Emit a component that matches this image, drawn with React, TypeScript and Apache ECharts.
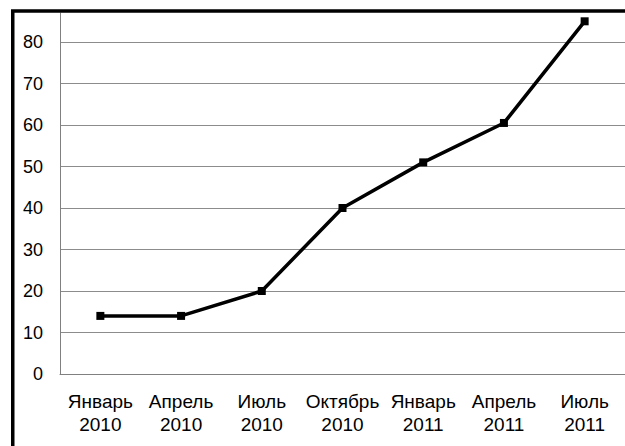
import React, { useEffect, useRef } from "react";
import * as echarts from "echarts";

const categories = [
  "Январь\n2010",
  "Апрель\n2010",
  "Июль\n2010",
  "Октябрь\n2010",
  "Январь\n2011",
  "Апрель\n2011",
  "Июль\n2011",
];
const values = [14, 14, 20, 40, 51, 60.5, 85];

export default function App() {
  const ref = useRef<HTMLDivElement>(null);
  useEffect(() => {
    if (!ref.current) return;
    const chart = echarts.init(ref.current, undefined, { renderer: "svg" });
    chart.setOption({
      animation: false,
      backgroundColor: "#ffffff",
      textStyle: { fontFamily: "Liberation Sans, Arial, sans-serif" },
      grid: { left: 60, top: 13, right: -2, bottom: 72 },
      xAxis: {
        type: "category",
        data: categories,
        boundaryGap: true,
        axisLine: { show: true, lineStyle: { color: "#808080", width: 1 } },
        axisTick: { show: false },
        axisLabel: {
          color: "#000",
          fontSize: 19,
          lineHeight: 23,
          margin: 16,
          interval: 0,
          fontFamily: "Liberation Sans, Arial, sans-serif",
        },
      },
      yAxis: {
        type: "value",
        min: 0,
        max: 87,
        interval: 10,
        axisLine: { show: true, lineStyle: { color: "#808080", width: 1 } },
        axisTick: { show: false },
        axisLabel: {
          color: "#000",
          fontSize: 18,
          margin: 17,
          showMaxLabel: false,
          fontFamily: "Liberation Sans, Arial, sans-serif",
        },
        splitLine: {
          show: true,
          showMaxLine: false,
          lineStyle: { color: "#8c8c8c", width: 1 },
        },
      },
      series: [
        {
          type: "line",
          data: values,
          symbol: "rect",
          symbolSize: 8,
          showAllSymbol: true,
          lineStyle: { color: "#000", width: 3.5 },
          itemStyle: { color: "#000" },
        },
      ],
      graphic: [
        {
          type: "rect",
          shape: { x: 12.75, y: 11, width: 700, height: 500 },
          style: { fill: "none", stroke: "#000", lineWidth: 3.5 },
          z: 100,
        },
      ],
    });
    return () => chart.dispose();
  }, []);
  return (
    <div
      ref={ref}
      style={{ position: "fixed", left: 0, top: 0, width: 625, height: 446 }}
    />
  );
}
